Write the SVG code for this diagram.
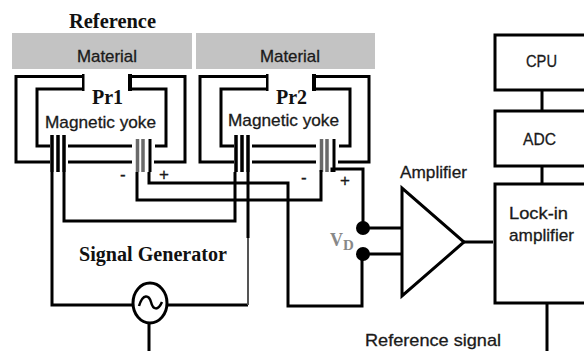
<svg xmlns="http://www.w3.org/2000/svg" width="584" height="351" viewBox="0 0 584 351">
<style>
.w{fill:none;stroke:#000;stroke-width:3}
.c{fill:none;stroke:#000;stroke-width:3.500}
.g{fill:none;stroke:#6a6a6a;stroke-width:3.500}
.box{fill:#fff;stroke:#000;stroke-width:3}
.mat{fill:#c3c3c3}
.s{font-family:"Liberation Sans",Arial,sans-serif;font-size:17px;fill:#1a1a1a;stroke:#1a1a1a;stroke-width:.3px}
.b{font-family:"Liberation Serif","Times New Roman",serif;font-weight:bold;fill:#111;font-size:20px}
</style>
<defs>
<g id="yoke">
<path class="w" d="M83 76.500H16V162H50M83 89H37V146H50M68 146H132M68 162H132M130 76.500H185V162H154M130 89H166V146H155" />
<path d="M82 74h2.500v17h-2.500zM128 74h4v17h-4z"/>
<path class="c" d="M52 135V172M58 135V172M64 135V172"/>
<path class="g" d="M137.500 139V172M143 139V172"/>
<path class="w" d="M150 139V172"/>
</g>
</defs>
<g id="material-1"><rect class="mat" x="12" y="33" width="180" height="36"/><text class="s" x="77" y="62" textLength="60" lengthAdjust="spacingAndGlyphs">Material</text></g>
<g id="material-2"><rect class="mat" x="196" y="33" width="179" height="36"/><text class="s" x="260" y="62" textLength="60" lengthAdjust="spacingAndGlyphs">Material</text></g>
<text class="b" x="69" y="28" textLength="87" lengthAdjust="spacingAndGlyphs">Reference</text>
<g id="yoke-1"><use href="#yoke"/><text class="b" x="92" y="104">Pr1</text><text class="s" x="45" y="128" textLength="111" lengthAdjust="spacingAndGlyphs">Magnetic yoke</text><text class="s" x="120" y="180">-</text><text class="s" x="159" y="180">+</text></g>
<g id="yoke-2"><use href="#yoke" x="184"/><text class="b" x="276" y="104">Pr2</text><text class="s" x="228" y="126" textLength="111" lengthAdjust="spacingAndGlyphs">Magnetic yoke</text><text class="s" x="301" y="183">-</text><text class="s" x="340" y="186">+</text></g>
<g id="connectors">
<path class="w" d="M52 172V305H133M166 305H248M64 172V221H235V172M137 172V200H321V170M149 172V183H288V306H362V254M332 172V169H363V228M248 172V238"/>
<path d="M248 238V305" fill="none" stroke="#555" stroke-width="2"/>
<path class="w" d="M363 228H402M363 254H402M464 242H493M542 90V111M542 166V184M547 303V351M149 323V351"/>
</g>
<g id="source"><ellipse cx="150" cy="303" rx="17" ry="20" fill="#fff" stroke="#000" stroke-width="3"/><path d="M139 306C143 293 149 295 151 302C153 310 158 311 162 302" fill="none" stroke="#000" stroke-width="2.500"/></g>
<text class="b" x="79" y="261" textLength="148" lengthAdjust="spacingAndGlyphs">Signal Generator</text>
<g id="terminals"><circle cx="363" cy="228" r="7"/><circle cx="363" cy="254" r="7"/><text class="b" x="330" y="246" style="fill:#888;font-size:18px">V<tspan style="font-size:15px" dy="4">D</tspan></text></g>
<g id="amplifier"><path d="M402 188V296L464 242Z" fill="#fff" stroke="#000" stroke-width="3"/><text class="s" x="400" y="178" textLength="67" lengthAdjust="spacingAndGlyphs">Amplifier</text></g>
<g id="cpu"><rect class="box" x="495" y="35" width="100" height="55"/><text class="s" x="526" y="67" textLength="31" lengthAdjust="spacingAndGlyphs">CPU</text></g>
<g id="adc"><rect class="box" x="495" y="111" width="100" height="55"/><text class="s" x="523" y="145" textLength="33" lengthAdjust="spacingAndGlyphs">ADC</text></g>
<g id="lockin"><rect class="box" x="495" y="184" width="100" height="119"/><text class="s" x="509" y="219" textLength="59" lengthAdjust="spacingAndGlyphs">Lock-in</text><text class="s" x="509" y="241" textLength="65" lengthAdjust="spacingAndGlyphs">amplifier</text></g>
<text class="s" x="365" y="346" textLength="136" lengthAdjust="spacingAndGlyphs">Reference signal</text>
</svg>
